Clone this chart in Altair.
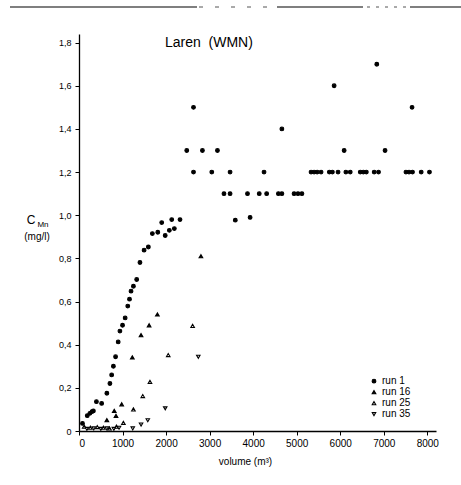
import altair as alt
import pandas as pd

FONT = "Liberation Sans"

runs = ["run 1", "run 16", "run 25", "run 35"]

run1_x = [80, 190, 250, 300, 330, 400, 520, 640, 710, 750, 790, 840, 900, 940, 1000, 1060,
          1120, 1160, 1195, 1250, 1325, 1400, 1495, 1593, 1685, 1810, 1900, 1980, 2075, 2130,
          2190, 2320, 2475, 2630, 2630, 2835, 3050, 3180, 3330, 3470, 3470, 3590, 3870, 3930,
          4140, 4250, 4310, 4580, 4660, 4660, 4940, 5030, 5120, 5330, 5400, 5470, 5560, 5750,
          5820, 5860, 5950, 6090, 6130, 6230, 6460, 6530, 6600, 6780, 6840, 6880, 7030, 7510,
          7580, 7650, 7660, 7860, 8050]
run1_y = [0.035, 0.071, 0.082, 0.09, 0.093, 0.136, 0.128, 0.175, 0.22, 0.26, 0.30, 0.344, 0.413,
          0.463, 0.49, 0.524, 0.579, 0.611, 0.648, 0.671, 0.702, 0.781, 0.838, 0.853, 0.915,
          0.921, 0.966, 0.906, 0.93, 0.98, 0.938, 0.98, 1.30, 1.50, 1.20, 1.30, 1.20, 1.30,
          1.10, 1.10, 1.20, 0.977, 1.10, 0.99, 1.10, 1.20, 1.10, 1.10, 1.10, 1.40, 1.10, 1.10,
          1.10, 1.20, 1.20, 1.20, 1.20, 1.20, 1.20, 1.60, 1.20, 1.30, 1.20, 1.20, 1.20, 1.20,
          1.20, 1.20, 1.70, 1.20, 1.30, 1.20, 1.20, 1.50, 1.20, 1.20, 1.20]

run16_x = [640, 810, 850, 980, 1225, 1425, 1610, 1800, 2800]
run16_y = [0.05, 0.093, 0.07, 0.124, 0.341, 0.444, 0.49, 0.54, 0.81]

run25_x = [120, 260, 420, 560, 700, 860, 1020, 1250, 1465, 1630, 2050, 2610]
run25_y = [0.02, 0.015, 0.018, 0.015, 0.012, 0.02, 0.038, 0.10, 0.162, 0.228, 0.352, 0.487]

run35_x = [180, 340, 500, 640, 800, 920, 1235, 1425, 1580, 1980, 2740]
run35_y = [0.01, 0.012, 0.01, 0.012, 0.01, 0.015, 0.012, 0.03, 0.05, 0.105, 0.344]

x_ticks = [0, 1000, 2000, 3000, 4000, 5000, 6000, 7000, 8000]
y_ticks = [0, 0.2, 0.4, 0.6, 0.8, 1.0, 1.2, 1.4, 1.6, 1.8]

rows = []
for name, xs, ys in [("run 1", run1_x, run1_y), ("run 16", run16_x, run16_y),
                     ("run 25", run25_x, run25_y), ("run 35", run35_x, run35_y)]:
    for a, b in zip(xs, ys):
        rows.append({"volume": a, "c": b, "run": name})
df = pd.DataFrame(rows)

W, H = 357, 397


def leg():
    return alt.Legend(orient="none", legendX=290, legendY=343, title=None,
                      labelFont=FONT, labelFontSize=10, labelColor="black",
                      rowPadding=0, clipHeight=8.3, symbolStrokeWidth=1.1,
                      labelOffset=3, padding=0)


points = alt.Chart(df).mark_point(filled=True, strokeWidth=1.1, opacity=1).encode(
    x=alt.X("volume:Q",
            scale=alt.Scale(domain=[0, 8200], nice=False, zero=True),
            axis=alt.Axis(values=x_ticks, format="d", title="volume (m³)", grid=False,
                          domainColor="black", domainWidth=1.3, tickColor="black", tickSize=4,
                          labelFont=FONT, labelFontSize=10, labelColor="black", labelPadding=3,
                          titleFont=FONT, titleFontSize=10, titleFontWeight="normal",
                          titleColor="black", titlePadding=8, titleX=166)),
    y=alt.Y("c:Q",
            scale=alt.Scale(domain=[0, 1.84], nice=False, zero=True),
            axis=alt.Axis(values=y_ticks, title=None, grid=False,
                          labelExpr="datum.value == 0 ? '0' : replace(format(datum.value, '.1f'), '.', ',')",
                          domainColor="black", domainWidth=1.3, tickColor="black", tickSize=4,
                          labelFont=FONT, labelFontSize=9, labelColor="black", labelPadding=4)),
    shape=alt.Shape("run:N", scale=alt.Scale(domain=runs,
                    range=["circle", "triangle-up", "triangle-up", "triangle-down"]),
                    legend=leg()),
    fill=alt.Fill("run:N", scale=alt.Scale(domain=runs, range=["black", "black", "white", "white"]),
                  legend=leg()),
    stroke=alt.Stroke("run:N", scale=alt.Scale(domain=runs, range=["black", "black", "black", "black"]),
                      legend=leg()),
    size=alt.Size("run:N", scale=alt.Scale(domain=runs, range=[14, 12, 30, 30]),
                  legend=leg()),
)

title = alt.Chart(pd.DataFrame({"t": ["Laren\u00a0\u00a0(WMN)"]})).mark_text(
    font=FONT, fontSize=14, align="left", baseline="middle", color="black"
).encode(text="t:N", x=alt.value(86), y=alt.value(9))

ylab_c = alt.Chart(pd.DataFrame({"t": ["C"]})).mark_text(
    font=FONT, fontSize=12, align="center", baseline="middle", color="black"
).encode(text="t:N", x=alt.value(-48), y=alt.value(186))

ylab_mn = alt.Chart(pd.DataFrame({"t": ["Mn"]})).mark_text(
    font=FONT, fontSize=8, align="center", baseline="middle", color="black"
).encode(text="t:N", x=alt.value(-36), y=alt.value(191))

ylab_unit = alt.Chart(pd.DataFrame({"t": ["(mg/l)"]})).mark_text(
    font=FONT, fontSize=10, align="center", baseline="middle", color="black"
).encode(text="t:N", x=alt.value(-42), y=alt.value(203))

top1 = alt.Chart(pd.DataFrame({"a": [0]})).mark_rule(color="black", strokeWidth=1.2).encode(
    x=alt.value(-69), x2=alt.value(118), y=alt.value(-27))
top2 = alt.Chart(pd.DataFrame({"a": [0]})).mark_rule(color="black", strokeWidth=1.2).encode(
    x=alt.value(198), x2=alt.value(284), y=alt.value(-27))
top3 = alt.Chart(pd.DataFrame({"a": [0]})).mark_rule(color="black", strokeWidth=1.2).encode(
    x=alt.value(331), x2=alt.value(382), y=alt.value(-27))
topd1 = alt.Chart(pd.DataFrame({"a": [0]})).mark_rule(color="#555", strokeWidth=1, strokeDash=[4, 12]).encode(
    x=alt.value(120), x2=alt.value(196), y=alt.value(-27))
topd2 = alt.Chart(pd.DataFrame({"a": [0]})).mark_rule(color="#555", strokeWidth=1, strokeDash=[3, 6]).encode(
    x=alt.value(288), x2=alt.value(330), y=alt.value(-27))

chart = alt.layer(points, title, ylab_c, ylab_mn, ylab_unit, top1, top2, top3, topd1, topd2).properties(
    width=W, height=H,
    autosize=alt.AutoSizeParams(type="none"),
    padding={"left": 79, "top": 34, "right": 25, "bottom": 54},
    background="white",
).configure_view(stroke=None)

chart.save("out.html", embed_options={"renderer": "svg", "actions": False})
